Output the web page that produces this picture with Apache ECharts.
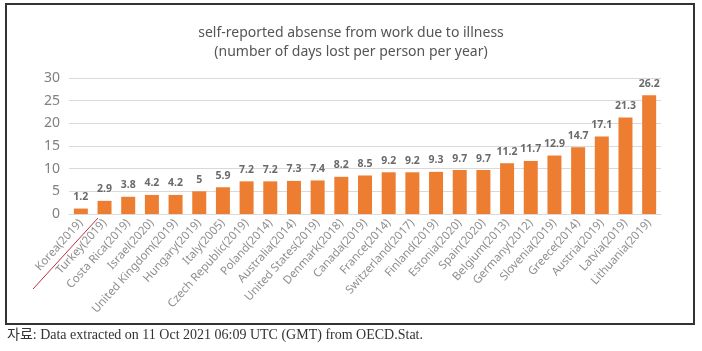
<!DOCTYPE html>
<html>
<head>
<meta charset="utf-8">
<script src="https://cdn.jsdelivr.net/npm/echarts@6/dist/echarts.min.js"></script>
<style>
html,body{margin:0;padding:0;background:#fff;}
#chart{width:702px;height:351px;}
</style>
</head>
<body>
<div id="chart"></div>
<script>
const categories = ["Korea(2019)","Turkey(2019)","Costa Rica(2019)","Israel(2020)","United Kingdom(2019)","Hungary(2019)","Italy(2005)","Czech Republic(2019)","Poland(2014)","Australia(2014)","United States(2019)","Denmark(2018)","Canada(2019)","France(2014)","Switzerland(2017)","Finland(2019)","Estonia(2020)","Spain(2020)","Belgium(2013)","Germany(2012)","Slovenia(2019)","Greece(2014)","Austria(2019)","Latvia(2019)","Lithuania(2019)"];
const daysLost = [1.2,2.9,3.8,4.2,4.2,5,5.9,7.2,7.2,7.3,7.4,8.2,8.5,9.2,9.2,9.3,9.7,9.7,11.2,11.7,12.9,14.7,17.1,21.3,26.2];
const yTicks = [0,5,10,15,20,25,30];
const titleLines = ["self-reported absense from work due to illness","(number of days lost per person per year)"];
const sourceNote = "자료: Data extracted on 11 Oct 2021 06:09 UTC (GMT) from OECD.Stat.";

const chart = echarts.init(document.getElementById('chart'), null, {renderer:'canvas'});
chart.setOption({
  animation:false,
  backgroundColor:'#fff',
  title:{
    text: titleLines.join('\n'),
    left:'center', top:19,
    textStyle:{fontFamily:'Noto Sans', fontSize:14, fontWeight:'normal', color:'#555', lineHeight:19}
  },
  grid:{left:69, right:41, top:78, bottom:137},
  xAxis:{
    type:'category', data:categories,
    axisLine:{lineStyle:{color:'#d9d9d9', width:1}},
    axisTick:{show:false},
    axisLabel:{interval:0, rotate:48, fontSize:11.5, color:'#8f8f8f', fontFamily:'Noto Sans', margin:7}
  },
  yAxis:{
    type:'value', min:yTicks[0], max:yTicks[yTicks.length-1], interval:5,
    axisLine:{show:false}, axisTick:{show:false},
    splitLine:{lineStyle:{color:'#d9d9d9', width:1}},
    axisLabel:{fontSize:14, color:'#808080', fontFamily:'Noto Sans', margin:9}
  },
  series:[{
    type:'bar', data:daysLost, barWidth:14,
    itemStyle:{color:'#ED7D31'},
    label:{show:true, position:'top', distance:6, fontSize:10.5, color:'#6a6a6a', fontFamily:'Noto Sans', fontWeight:'bold'}
  }],
  graphic:[
    {type:'rect', shape:{x:6, y:4, width:688, height:320}, style:{fill:'none', stroke:'#333', lineWidth:2}, silent:true},
    {type:'line', shape:{x1:33, y1:289, x2:98, y2:218}, style:{stroke:'#c0303a', lineWidth:1}, silent:true},
    {type:'text', left:7, top:328, style:{text:sourceNote, font:'14px "Liberation Serif", "Noto Sans CJK KR", serif', fill:'#333'}, silent:true}
  ]
});
</script>
</body>
</html>
